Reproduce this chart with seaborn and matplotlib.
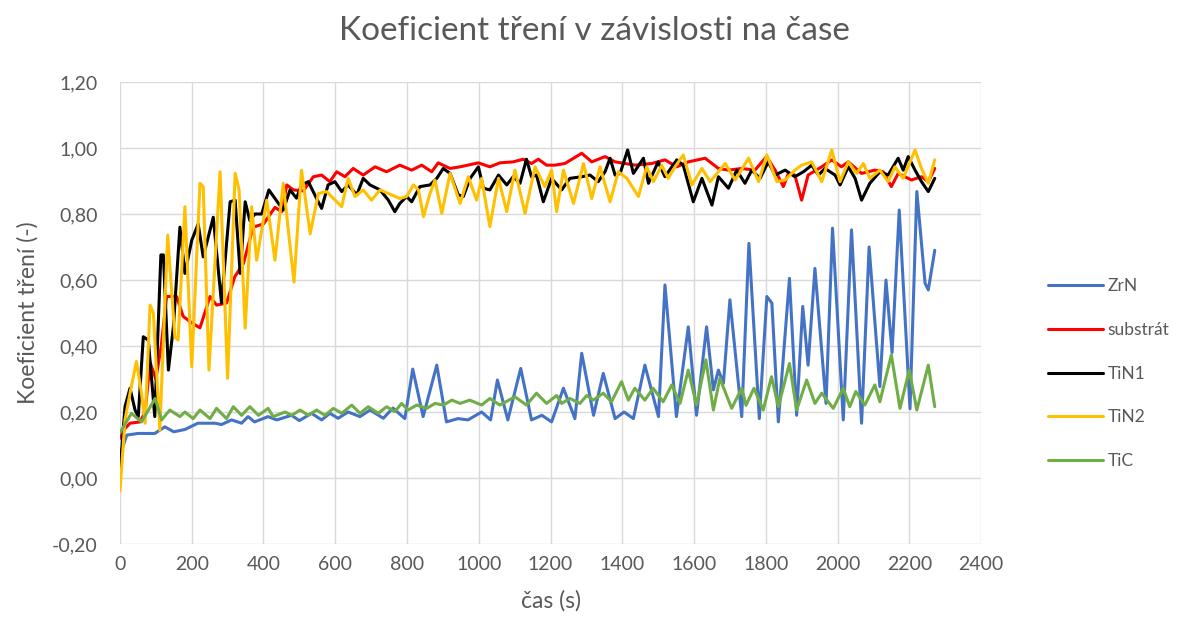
import numpy as np
import pandas as pd
import matplotlib
matplotlib.use("Agg")
import matplotlib.pyplot as plt
import seaborn as sns
from matplotlib.ticker import FuncFormatter

# ---------------- data ----------------
zrn_t = [0, 19, 50, 97, 125, 150, 181, 217, 265, 283,
         311, 339, 357, 375, 413, 437, 478, 500, 534, 562,
         585, 608, 636, 669, 697, 734, 761, 794, 816, 845,
         883, 910, 942, 970, 1008, 1033, 1052, 1081, 1117, 1147,
         1176, 1203, 1236, 1268, 1287, 1320, 1347, 1380, 1405, 1431,
         1463, 1501, 1519, 1551, 1584, 1607, 1635, 1654, 1668, 1682,
         1700, 1733, 1753, 1782, 1803, 1817, 1835, 1866, 1886, 1903,
         1918, 1937, 1968, 1986, 2016, 2039, 2067, 2088, 2118, 2135,
         2152, 2172, 2202, 2221, 2244, 2253, 2271]
zrn_v = [0.07, 0.13, 0.135, 0.135, 0.155, 0.14, 0.147, 0.166, 0.166, 0.162,
         0.176, 0.166, 0.186, 0.17, 0.186, 0.176, 0.19, 0.174, 0.196, 0.176,
         0.196, 0.181, 0.2, 0.186, 0.206, 0.181, 0.212, 0.18, 0.33, 0.186,
         0.342, 0.17, 0.18, 0.176, 0.2, 0.176, 0.297, 0.176, 0.332, 0.176,
         0.19, 0.17, 0.272, 0.18, 0.378, 0.19, 0.317, 0.18, 0.2, 0.18,
         0.342, 0.186, 0.585, 0.186, 0.458, 0.19, 0.458, 0.267, 0.327, 0.287,
         0.54, 0.186, 0.711, 0.18, 0.55, 0.53, 0.17, 0.605, 0.19, 0.52,
         0.342, 0.635, 0.226, 0.757, 0.176, 0.752, 0.166, 0.70, 0.277, 0.60,
         0.38, 0.812, 0.21, 0.868, 0.59, 0.57, 0.69]

sub_t = [0, 14, 28, 56, 70, 84, 100, 115, 130, 158,
         176, 200, 223, 251, 269, 297, 320, 344, 371, 400,
         432, 451, 465, 483, 511, 539, 562, 585, 604, 627,
         650, 678, 711, 743, 780, 813, 841, 869, 887, 920,
         948, 999, 1031, 1059, 1096, 1124, 1147, 1166, 1189, 1212,
         1240, 1287, 1315, 1352, 1380, 1436, 1482, 1519, 1552, 1584,
         1631, 1668, 1696, 1733, 1770, 1802, 1826, 1849, 1863, 1881,
         1900, 1918, 1956, 1984, 2011, 2030, 2067, 2104, 2127, 2150,
         2169, 2206, 2234, 2253, 2271]
sub_v = [0.12, 0.15, 0.166, 0.17, 0.2, 0.35, 0.30, 0.40, 0.55, 0.55,
         0.49, 0.47, 0.455, 0.55, 0.524, 0.53, 0.61, 0.65, 0.76, 0.77,
         0.82, 0.807, 0.888, 0.873, 0.87, 0.913, 0.918, 0.898, 0.928, 0.913,
         0.938, 0.918, 0.943, 0.928, 0.948, 0.933, 0.948, 0.928, 0.955, 0.938,
         0.943, 0.955, 0.943, 0.955, 0.958, 0.966, 0.953, 0.966, 0.948, 0.948,
         0.953, 0.984, 0.958, 0.974, 0.958, 0.948, 0.953, 0.964, 0.943, 0.958,
         0.969, 0.938, 0.933, 0.938, 0.933, 0.974, 0.933, 0.883, 0.923, 0.918,
         0.842, 0.918, 0.943, 0.964, 0.943, 0.958, 0.923, 0.933, 0.928, 0.883,
         0.923, 0.903, 0.913, 0.898, 0.938]

tin1_t = [0, 14, 28, 42, 51, 65, 79, 97, 114, 121,
          135, 149, 167, 181, 200, 218, 232, 260, 283, 307,
          321, 335, 349, 362, 376, 395, 415, 432, 455, 474,
          492, 506, 525, 543, 562, 580, 599, 618, 636, 660,
          678, 697, 725, 748, 766, 780, 799, 813, 836, 864,
          883, 901, 920, 943, 957, 976, 999, 1013, 1031, 1055,
          1078, 1096, 1115, 1133, 1147, 1161, 1180, 1203, 1231, 1254,
          1287, 1310, 1333, 1352, 1366, 1380, 1394, 1415, 1431, 1459,
          1473, 1500, 1519, 1552, 1570, 1598, 1622, 1650, 1668, 1696,
          1719, 1742, 1761, 1784, 1807, 1826, 1854, 1881, 1905, 1928,
          1947, 1965, 1993, 2007, 2030, 2049, 2067, 2090, 2118, 2141,
          2169, 2183, 2197, 2216, 2234, 2253, 2271]
tin1_v = [0.014, 0.216, 0.272, 0.206, 0.186, 0.428, 0.418, 0.186, 0.676, 0.676,
          0.327, 0.459, 0.76, 0.62, 0.72, 0.77, 0.67, 0.79, 0.53, 0.837,
          0.842, 0.62, 0.837, 0.78, 0.80, 0.80, 0.873, 0.847, 0.812, 0.873,
          0.848, 0.888, 0.898, 0.858, 0.817, 0.888, 0.898, 0.868, 0.888, 0.858,
          0.908, 0.888, 0.873, 0.842, 0.807, 0.832, 0.853, 0.837, 0.883, 0.888,
          0.908, 0.938, 0.923, 0.858, 0.853, 0.908, 0.943, 0.878, 0.873, 0.918,
          0.888, 0.913, 0.893, 0.966, 0.913, 0.918, 0.837, 0.908, 0.873, 0.908,
          0.913, 0.918, 0.898, 0.928, 0.969, 0.918, 0.923, 0.994, 0.923, 0.969,
          0.893, 0.958, 0.913, 0.964, 0.948, 0.837, 0.908, 0.827, 0.913, 0.878,
          0.933, 0.893, 0.933, 0.908, 0.958, 0.918, 0.933, 0.913, 0.928, 0.948,
          0.918, 0.938, 0.918, 0.888, 0.943, 0.908, 0.842, 0.893, 0.928, 0.918,
          0.969, 0.933, 0.974, 0.933, 0.898, 0.868, 0.908]

tin2_t = [0, 14, 28, 46, 60, 70, 84, 93, 111, 133,
          153, 162, 181, 200, 223, 232, 248, 279, 300, 321,
          332, 349, 367, 381, 409, 432, 455, 485, 506, 530,
          553, 576, 618, 636, 655, 678, 701, 725, 757, 780,
          799, 818, 832, 846, 864, 878, 897, 920, 948, 971,
          994, 1008, 1031, 1055, 1078, 1101, 1129, 1157, 1184, 1203,
          1217, 1236, 1264, 1292, 1315, 1338, 1366, 1389, 1413, 1445,
          1468, 1487, 1510, 1528, 1547, 1570, 1594, 1622, 1645, 1687,
          1715, 1752, 1780, 1803, 1831, 1854, 1881, 1900, 1928, 1956,
          1984, 2007, 2030, 2053, 2072, 2090, 2118, 2141, 2160, 2183,
          2216, 2234, 2253, 2271]
tin2_v = [-0.04, 0.176, 0.257, 0.353, 0.257, 0.166, 0.524, 0.50, 0.145, 0.736,
          0.428, 0.418, 0.822, 0.337, 0.893, 0.883, 0.327, 0.928, 0.302, 0.923,
          0.873, 0.454, 0.822, 0.66, 0.842, 0.66, 0.893, 0.594, 0.933, 0.74,
          0.862, 0.868, 0.822, 0.908, 0.853, 0.873, 0.842, 0.873, 0.858, 0.847,
          0.853, 0.888, 0.873, 0.792, 0.862, 0.903, 0.802, 0.923, 0.832, 0.913,
          0.842, 0.908, 0.762, 0.908, 0.807, 0.933, 0.802, 0.943, 0.883, 0.933,
          0.807, 0.933, 0.832, 0.953, 0.847, 0.943, 0.837, 0.928, 0.908, 0.853,
          0.943, 0.898, 0.948, 0.908, 0.943, 0.979, 0.888, 0.938, 0.898, 0.953,
          0.903, 0.969, 0.898, 0.979, 0.898, 0.903, 0.933, 0.948, 0.958, 0.898,
          0.994, 0.898, 0.958, 0.923, 0.953, 0.908, 0.933, 0.898, 0.943, 0.908,
          0.994, 0.938, 0.893, 0.964]

tic_t = [0, 32, 60, 98, 116, 139, 167, 181, 204, 223,
         251, 269, 297, 316, 339, 362, 386, 413, 427, 460,
         479, 502, 525, 548, 571, 595, 618, 646, 669, 692,
         720, 743, 766, 785, 803, 827, 855, 878, 901, 925,
         948, 975, 1008, 1031, 1059, 1101, 1133, 1161, 1189, 1217,
         1231, 1254, 1282, 1301, 1319, 1347, 1370, 1398, 1417, 1435,
         1463, 1486, 1514, 1538, 1561, 1584, 1607, 1633, 1654, 1672,
         1705, 1733, 1745, 1767, 1793, 1816, 1835, 1866, 1886, 1914,
         1937, 1956, 1988, 2016, 2034, 2051, 2076, 2104, 2118, 2150,
         2174, 2200, 2221, 2253, 2271]
tic_v = [0.137, 0.196, 0.17, 0.241, 0.176, 0.206, 0.186, 0.20, 0.18, 0.206,
         0.18, 0.211, 0.18, 0.216, 0.19, 0.216, 0.19, 0.211, 0.186, 0.2,
         0.19, 0.206, 0.19, 0.206, 0.19, 0.211, 0.196, 0.221, 0.196, 0.216,
         0.196, 0.216, 0.201, 0.226, 0.206, 0.221, 0.211, 0.226, 0.221, 0.236,
         0.226, 0.236, 0.221, 0.241, 0.221, 0.246, 0.221, 0.257, 0.226, 0.25,
         0.226, 0.241, 0.226, 0.25, 0.236, 0.257, 0.231, 0.292, 0.236, 0.272,
         0.236, 0.272, 0.231, 0.282, 0.226, 0.327, 0.221, 0.358, 0.206, 0.302,
         0.211, 0.272, 0.22, 0.272, 0.206, 0.307, 0.216, 0.347, 0.206, 0.297,
         0.226, 0.257, 0.211, 0.272, 0.216, 0.262, 0.221, 0.282, 0.231, 0.373,
         0.211, 0.327, 0.206, 0.342, 0.216]

series_names = ["ZrN", "substrát", "TiN1", "TiN2", "TiC"]
series_colors = ["#4472C4", "#FF0000", "#000000", "#FFC000", "#70AD47"]

x_ticks = list(range(0, 2401, 200))
y_ticks = [-0.2, 0.0, 0.2, 0.4, 0.6, 0.8, 1.0, 1.2]

title_text = "Koeficient tření v závislosti na čase"
x_label = "čas (s)"
y_label = "Koeficient tření (-)"

# ---------------- build long table ----------------
pairs = [(zrn_t, zrn_v), (sub_t, sub_v), (tin1_t, tin1_v), (tin2_t, tin2_v), (tic_t, tic_v)]
frames = []
for name, (tt, vv) in zip(series_names, pairs):
    assert len(tt) == len(vv), (name, len(tt), len(vv))
    frames.append(pd.DataFrame({"t": tt, "v": vv, "series": name}))
df = pd.concat(frames, ignore_index=True)

# ---------------- plot ----------------
sns.set_style("white")
plt.rcParams["font.family"] = ["Lato", "DejaVu Sans"]
text_color = "#595959"

fig = plt.figure(figsize=(11.89, 6.25), dpi=100)
ax = fig.add_axes([0.1009, 0.1296, 0.7242, 0.7392])

sns.lineplot(data=df, x="t", y="v", hue="series", hue_order=series_names,
             palette=series_colors, estimator=None, sort=False,
             linewidth=2.2, ax=ax, legend=True)

ax.set_xlim(0, 2400)
ax.set_ylim(-0.2, 1.2)
ax.set_xticks(x_ticks)
ax.set_yticks(y_ticks)
ax.yaxis.set_major_formatter(FuncFormatter(lambda v, p: f"{v:.2f}".replace(".", ",").replace("-0,00", "0,00")))
ax.xaxis.set_major_formatter(FuncFormatter(lambda v, p: f"{int(round(v))}"))
ax.grid(True, color="#d9d9d9", linewidth=1.0)
ax.set_axisbelow(True)
for s in ax.spines.values():
    s.set_visible(False)
ax.tick_params(axis="both", length=0, labelsize=14, colors=text_color)
ax.tick_params(axis="y", pad=16)
ax.tick_params(axis="x", pad=9)

ax.set_xlabel(x_label, fontsize=16.5, color=text_color, labelpad=12)
ax.set_ylabel(y_label, fontsize=16.5, color=text_color, labelpad=10)
fig.suptitle(title_text, fontsize=24, color=text_color, y=0.975)

handles, labels = ax.get_legend_handles_labels()
ax.get_legend().remove()
fig.legend(handles, labels, loc="upper left", bbox_to_anchor=(0.868, 0.58),
           frameon=False, fontsize=12.5, labelcolor=text_color,
           handlelength=3.2, handletextpad=0.25, labelspacing=1.6)

fig.savefig("out.png", dpi=100)
